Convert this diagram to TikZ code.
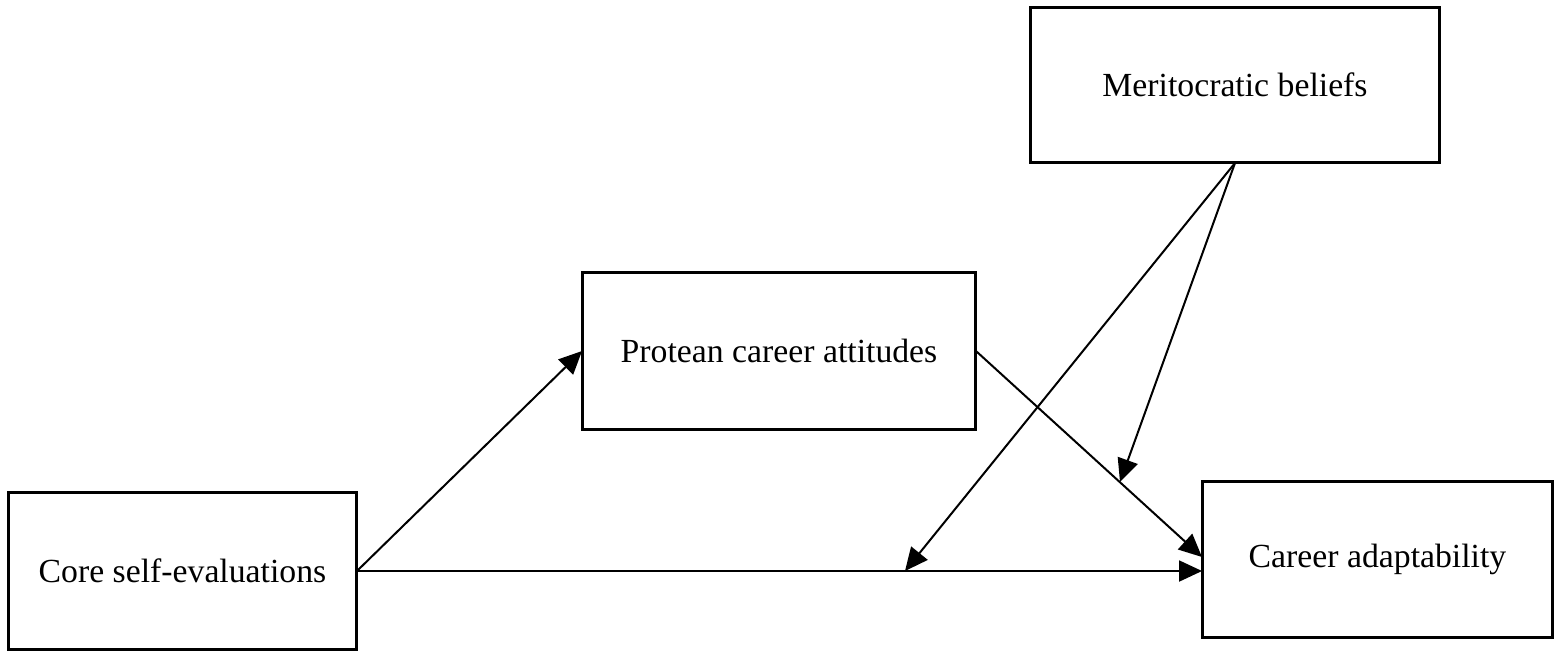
\documentclass[tikz,border=0pt]{standalone}
\usepackage{fontspec}
\setmainfont{Liberation Serif}
\usetikzlibrary{arrows.meta}
\tikzset{
  varbox/.style={draw, line width=0.06cm, inner sep=0pt, outer sep=0pt,
    font=\fontsize{19.2}{23}\selectfont},
  path/.style={line width=0.04cm, -{Triangle[length=0.46cm,width=0.42cm]}}
}
\begin{document}
\begin{tikzpicture}[x=0.02cm,y=-0.02cm]
            \useasboundingbox (0,0) rectangle (1559,657);
            \node[varbox, minimum width=6.98cm, minimum height=3.16cm] (CSE) at (182.5,571) {Core self-evaluations};
            \node[varbox, minimum width=7.88cm, minimum height=3.16cm] (PCA) at (779,351) {Protean career attitudes};
            \node[varbox, minimum width=8.2cm, minimum height=3.12cm] (MB) at (1235,85) {Meritocratic beliefs};
            \node[varbox, minimum width=7.02cm, minimum height=3.14cm] (CA) at (1377.5,559.5) {Career adaptability};
            
            \coordinate (CAin) at (1202,557);
            \coordinate (M1) at (1120,482);
            \coordinate (M2) at (905,571);
            
            \draw[path] (CSE.east) -- (PCA.west);
            \draw[path] (CSE.east) -- (CSE.east -| CA.west);
            \draw[path] (PCA.east) -- (CAin);
            \draw[path] (MB.south) -- (M1);
            \draw[path] (MB.south) -- (M2);
          \end{tikzpicture}
\end{document}
